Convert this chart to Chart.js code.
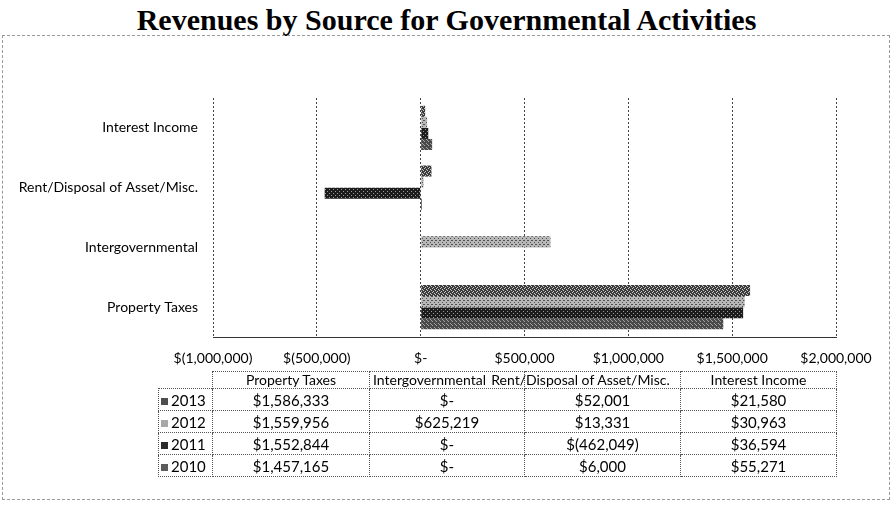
<!DOCTYPE html>
<html>
<head>
<meta charset="utf-8">
<script src="https://cdn.jsdelivr.net/npm/chart.js@4.4.0/dist/chart.umd.min.js"></script>
<style>
  html, body { margin:0; padding:0; background:#fff; }
  #wrap { position:relative; width:893px; height:510px; overflow:hidden; }
  #title { position:absolute; left:0; top:3px; width:893px; text-align:center;
    font-family:"Liberation Serif", serif; font-weight:bold; font-size:30px; line-height:34px; color:#000; }
  #frame { position:absolute; left:2px; top:35px; width:888px; height:465px;
    border:1px dashed #999; box-sizing:border-box; }
  #c { position:absolute; left:0; top:0; }
  #tbl { position:absolute; left:158px; top:371px; width:678px; border-collapse:collapse;
    font-family:Lato, "Open Sans", sans-serif; font-size:15px; color:#000; table-layout:fixed; }
  #tbl td { border:1px dotted #555; text-align:center; padding:0; height:21px; white-space:nowrap; overflow:visible; }
  #tbl tr.hdr td { height:16px; line-height:16px; font-size:14px; }
  #tbl td.blank { border:none; }
  #tbl td.lab { text-align:left; padding-left:2px; }
  #tbl td .wide { margin-left:-44px; text-align:center; }
  #tbl td .left { text-align:left; padding-left:3px; }
  .key { display:inline-block; width:7px; height:7px; margin-right:3px; vertical-align:1px; }
</style>
</head>
<body>
<div id="wrap">
  <div id="title">Revenues by Source for Governmental Activities</div>
  <div id="frame"></div>
  <canvas id="c" width="893" height="510"></canvas>
  <table id="tbl"></table>
</div>
<script>
// ---- data ----
const categories = ['Interest Income', 'Rent/Disposal of Asset/Misc.', 'Intergovernmental', 'Property Taxes'];
const tableColumns = ['Property Taxes', 'Intergovernmental', 'Rent/Disposal of Asset/Misc.', 'Interest Income'];
const years = ['2013', '2012', '2011', '2010'];
// values per year, in order of `categories`
const values2013 = [21580, 52001, 0, 1586333];
const values2012 = [30963, 13331, 625219, 1559956];
const values2011 = [36594, -462049, 0, 1552844];
const values2010 = [55271, 6000, 0, 1457165];
const xTicks = [-1000000, -500000, 0, 500000, 1000000, 1500000, 2000000];

const seriesValues = [values2013, values2012, values2011, values2010];

// ---- styling helpers ----
function makePattern(bg, fg, cells) {
  const c = document.createElement('canvas');
  c.width = 4; c.height = 4;
  const g = c.getContext('2d');
  g.fillStyle = bg; g.fillRect(0, 0, 4, 4);
  g.fillStyle = fg;
  cells.forEach(([x, y]) => g.fillRect(x, y, 1, 1));
  return g.createPattern(c, 'repeat');
}
const ctx = document.getElementById('c').getContext('2d');
const swatch = ['#4d4d4d', '#a8a8a8', '#2a2a2a', '#5c5c5c'];
const fills = [
  makePattern('#3c3c3c', '#c8c8c8', [[0,0],[2,1],[1,3],[3,2]]),
  makePattern('#b8b8b8', '#505050', [[0,0],[2,2],[3,0]]),
  makePattern('#1c1c1c', '#9a9a9a', [[1,1],[3,3]]),
  makePattern('#4a4a4a', '#a0a0a0', [[0,1],[2,3],[3,0]])
];

function money(v) {
  if (v === 0) return '$-';
  const s = Math.abs(v).toLocaleString('en-US');
  return v < 0 ? '$(' + s + ')' : '$' + s;
}

const font = "Lato, 'Open Sans', sans-serif";

new Chart(ctx, {
  type: 'bar',
  data: {
    labels: categories,
    datasets: years.map((y, i) => ({
      label: y,
      data: seriesValues[i],
      backgroundColor: fills[i],
      borderWidth: 0,
      categoryPercentage: 0.74,
      barPercentage: 1.0
    }))
  },
  options: {
    indexAxis: 'y',
    responsive: false,
    animation: false,
    layout: { padding: { top: 98, right: 57, bottom: 143, left: 0 } },
    plugins: { legend: { display: false }, title: { display: false }, tooltip: { enabled: false } },
    scales: {
      x: {
        min: xTicks[0], max: xTicks[xTicks.length - 1],
        afterBuildTicks: s => { s.ticks = xTicks.map(v => ({ value: v })); },
        afterFit: s => { s.height = 30; },
        grid: { color: '#444', lineWidth: 1, drawTicks: false },
        border: { display: true, color: '#333', dash: [2, 2] },
        ticks: { padding: 13, color: '#000', font: { family: font, size: 14 }, callback: v => money(v), maxRotation: 0, autoSkip: false }
      },
      y: {
        afterFit: s => { s.width = 213; },
        grid: { display: false, drawTicks: false },
        border: { display: false },
        ticks: { padding: 15, color: '#000', font: { family: font, size: 14 } }
      }
    }
  }
});

// ---- data table ----
const tbl = document.getElementById('tbl');
const colWidths = [54, 157, 155, 156, 156];
const cg = document.createElement('colgroup');
colWidths.forEach(w => { const c = document.createElement('col'); c.style.width = w + 'px'; cg.appendChild(c); });
tbl.appendChild(cg);
const hr = document.createElement('tr'); hr.className = 'hdr';
const blank = document.createElement('td'); blank.className = 'blank'; hr.appendChild(blank);
tableColumns.forEach(t => {
  const td = document.createElement('td');
  const d = document.createElement('div');
  d.textContent = t;
  if (t === 'Rent/Disposal of Asset/Misc.') d.className = 'wide';
  if (t === 'Intergovernmental') d.className = 'left';
  td.appendChild(d);
  hr.appendChild(td);
});
tbl.appendChild(hr);
years.forEach((y, i) => {
  const tr = document.createElement('tr');
  const lab = document.createElement('td'); lab.className = 'lab';
  const k = document.createElement('span'); k.className = 'key'; k.style.background = swatch[i];
  lab.appendChild(k); lab.appendChild(document.createTextNode(y));
  tr.appendChild(lab);
  tableColumns.forEach(col => {
    const td = document.createElement('td');
    td.textContent = money(seriesValues[i][categories.indexOf(col)]);
    tr.appendChild(td);
  });
  tbl.appendChild(tr);
});
</script>
</body>
</html>
